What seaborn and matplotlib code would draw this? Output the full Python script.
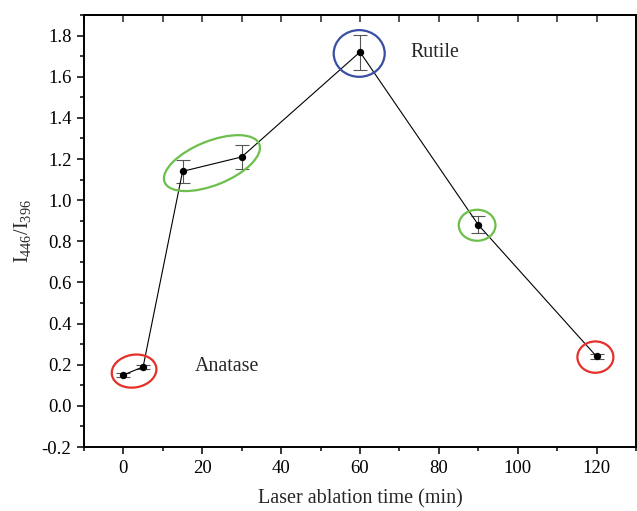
import matplotlib
matplotlib.use("Agg")
import matplotlib.pyplot as plt
import matplotlib.transforms as mtransforms
from matplotlib.patches import Ellipse
from matplotlib.ticker import MultipleLocator, FormatStrFormatter
import seaborn as sns
import pandas as pd

# Intensity ratio vs. laser ablation time
time_min = [0, 5, 15, 30, 60, 90, 120]
ratio = [0.15, 0.19, 1.14, 1.21, 1.72, 0.88, 0.24]
ratio_err = [0.01, 0.01, 0.056, 0.06, 0.085, 0.042, 0.01]

phase_labels = ["Anatase", "Rutile"]

df = pd.DataFrame({"time": time_min, "ratio": ratio, "err": ratio_err})

sns.set_theme(style="ticks")
plt.rcParams["font.family"] = ["Liberation Serif", "DejaVu Serif"]
plt.rcParams["mathtext.fontset"] = "custom"
plt.rcParams["mathtext.rm"] = "Liberation Serif"
plt.rcParams["mathtext.it"] = "Liberation Serif:italic"
plt.rcParams["axes.unicode_minus"] = False

fig = plt.figure(figsize=(6.37, 5.11), dpi=100)
ax = fig.add_axes([84 / 637, (511 - 447) / 511, (636 - 84) / 637, (447 - 15) / 511])

# error bars behind the connecting line and markers
ax.errorbar(df["time"], df["ratio"], yerr=df["err"], fmt="none",
            ecolor="#555555", elinewidth=0.8, capsize=5, capthick=0.8, zorder=2)
sns.lineplot(data=df, x="time", y="ratio", ax=ax, color="black", linewidth=0.8,
             marker="o", markersize=5.3, markeredgewidth=0, zorder=3)

ax.set_xlim(-10, 130)
ax.set_ylim(-0.2, 1.9)
ax.xaxis.set_major_locator(MultipleLocator(20))
ax.xaxis.set_minor_locator(MultipleLocator(10))
ax.yaxis.set_major_locator(MultipleLocator(0.2))
ax.yaxis.set_minor_locator(MultipleLocator(0.1))
ax.yaxis.set_major_formatter(FormatStrFormatter("%.1f"))

for side in ["left", "right", "top", "bottom"]:
    ax.spines[side].set_visible(True)
    ax.spines[side].set_linewidth(1.4)
    ax.spines[side].set_color("black")

ax.tick_params(which="major", direction="out", length=5, width=1.1,
               labelsize=13.5, colors="black", pad=4)
ax.tick_params(which="minor", direction="out", length=3, width=1.1, colors="black")
ax.tick_params(top=False, right=False, which="both")

# top axis: plain inward ticks every 10 min
top = ax.secondary_xaxis("top")
top.xaxis.set_major_locator(MultipleLocator(10))
top.tick_params(direction="in", length=5, width=1.1, labeltop=False)
top.spines["top"].set_linewidth(1.4)

ax.set_xlabel("Laser ablation time (min)", fontsize=14.5, labelpad=9)
ax.set_ylabel(r"$\mathregular{I_{446}/I_{396}}$", fontsize=14.5, labelpad=6)

ax.text(18.0, 0.19, phase_labels[0], fontsize=14.4, ha="left", va="center")
ax.text(72.7, 1.72, phase_labels[1], fontsize=14.4, ha="left", va="center")


def ring(cx, cy, w_px, h_px, angle, color):
    trans = fig.dpi_scale_trans + mtransforms.ScaledTranslation(cx, cy, ax.transData)
    e = Ellipse((0, 0), w_px / 100, h_px / 100, angle=angle, transform=trans,
                fill=False, edgecolor=color, linewidth=1.6, zorder=4)
    ax.add_patch(e)


red = "#e5302a"
green = "#6cbf4a"
blue = "#3a4ea3"
ring(2.7, 0.169, 45, 32.7, 10, red)
ring(22.45, 1.18, 102, 44, 22, green)
ring(59.8, 1.713, 51, 46.7, 0, blue)
ring(89.7, 0.878, 36.7, 31, 0, green)
ring(119.7, 0.237, 36, 31.3, 0, red)

fig.savefig("out.png", dpi=100)
